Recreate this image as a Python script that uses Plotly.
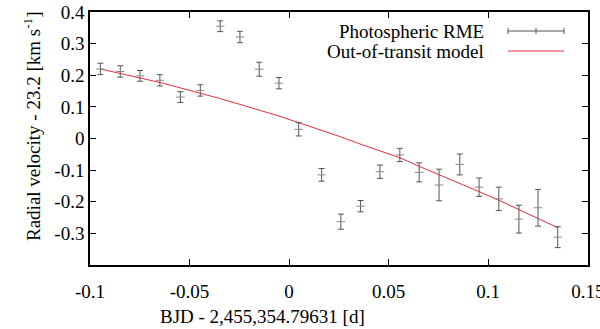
import plotly.graph_objects as go

# BJD offsets [d]
bjd = [-0.0948, -0.0848, -0.0749, -0.0649, -0.0546, -0.0446, -0.0346, -0.0247,
       -0.0150, -0.0051, 0.0048, 0.0163, 0.0260, 0.0359, 0.0456, 0.0556,
       0.0653, 0.0753, 0.0857, 0.0954, 0.1053, 0.1154, 0.1250, 0.1349]
# photospheric RME radial velocity - 23.2 [km/s]
rv = [0.220, 0.212, 0.198, 0.184, 0.131, 0.152, 0.355, 0.321,
      0.219, 0.175, 0.029, -0.115, -0.263, -0.214, -0.105, -0.052,
      -0.107, -0.147, -0.082, -0.154, -0.191, -0.255, -0.219, -0.312]
rv_err = [0.018, 0.018, 0.017, 0.018, 0.017, 0.018, 0.017, 0.018,
          0.022, 0.018, 0.021, 0.020, 0.024, 0.018, 0.021, 0.021,
          0.030, 0.050, 0.033, 0.029, 0.037, 0.044, 0.058, 0.033]
# out-of-transit model at same epochs
model = [0.220, 0.206, 0.192, 0.177, 0.160, 0.144, 0.126, 0.108,
         0.090, 0.071, 0.050, 0.026, 0.005, -0.018, -0.040, -0.061,
         -0.088, -0.114, -0.141, -0.168, -0.195, -0.224, -0.252, -0.282]

xticks = [-0.1, -0.05, 0, 0.05, 0.1, 0.15]
xlabels = ["-0.1", "-0.05", "0", "0.05", "0.1", "0.15"]
yticks = [0.4, 0.3, 0.2, 0.1, 0, -0.1, -0.2, -0.3]
ylabels = ["0.4", "0.3", "0.2", "0.1", "0", "-0.1", "-0.2", "-0.3"]

FONT = "Liberation Serif, Times New Roman, Times, serif"
ERRC = "#555555"
REDC = "#e2303c"
XRANGE = [-0.1, 0.1501]

# plot area in pixels: x 90..588, y 12..265
PW, PH = 498, 253

fig = go.Figure()
fig.add_trace(go.Scatter(
    x=bjd, y=rv, mode="markers", xaxis="x2",
    marker=dict(symbol="line-ew", size=6, line=dict(color="#888888", width=1)),
    error_y=dict(type="data", array=rv_err, color=ERRC, thickness=1, width=3),
    showlegend=False))
fig.add_trace(go.Scatter(
    x=bjd, y=model, mode="lines",
    line=dict(color=REDC, width=1), showlegend=False))

# gnuplot style key, drawn by hand
for txt, ypx in [("Photospheric RME", 31), ("Out-of-transit model", 51)]:
    fig.add_annotation(x=(486 - 90) / PW, y=1 - (ypx - 12) / PH, xref="paper", yref="paper",
                       text=txt, showarrow=False, xanchor="right", yanchor="middle",
                       font=dict(family=FONT, size=19, color="black"))
x0, x1 = (508 - 90) / PW, (564 - 90) / PW
y_rme = 1 - (31 - 12) / PH
y_mod = 1 - (51 - 12) / PH
fig.add_shape(type="line", xref="paper", yref="paper", x0=x0, x1=x1, y0=y_rme, y1=y_rme,
              line=dict(color=ERRC, width=1))
for xx in [x0, (x0 + x1) / 2, x1]:
    fig.add_shape(type="line", xref="paper", yref="paper", x0=xx, x1=xx,
                  y0=y_rme - 3 / PH, y1=y_rme + 3 / PH, line=dict(color=ERRC, width=1))
fig.add_shape(type="line", xref="paper", yref="paper", x0=x0, x1=x1, y0=y_mod, y1=y_mod,
              line=dict(color=REDC, width=1))

fig.add_annotation(x=-72 / PW, y=1 - (126 - 12) / PH, xref="paper", yref="paper",
                   text="Radial velocity - 23.2 [km s<sup>-1</sup>]", textangle=-90,
                   showarrow=False, font=dict(family=FONT, size=19, color="black"))
fig.add_annotation(x=(262 - 90) / PW, y=-(316 - 265) / PH, xref="paper", yref="paper",
                   text="BJD - 2,455,354.79631 [d]", showarrow=False,
                   xanchor="center", yanchor="middle",
                   font=dict(family=FONT, size=19, color="black"))

axis_common = dict(showgrid=False, zeroline=False, showline=True, linecolor="black",
                   linewidth=1.5, mirror="ticks", ticks="inside", ticklen=6,
                   tickcolor="black", tickwidth=1,
                   tickfont=dict(family=FONT, size=19, color="black"))
fig.update_layout(
    xaxis=dict(range=XRANGE, tickvals=xticks, showticklabels=False, **axis_common),
    yaxis=dict(range=[-0.4, 0.4], tickvals=yticks, ticktext=ylabels,
               ticksuffix="   ", **axis_common),
    # second x axis only carries the tick labels, pushed down by invisible outside ticks
    xaxis2=dict(overlaying="x", anchor="y", side="bottom",
                range=XRANGE, tickvals=xticks, ticktext=xlabels,
                ticks="outside", ticklen=9, tickcolor="rgba(0,0,0,0)",
                ticklabeloverflow="allow",
                showline=False, showgrid=False, zeroline=False,
                tickfont=dict(family=FONT, size=19, color="black")))

fig.update_layout(width=600, height=329, autosize=False,
                  margin=dict(l=90, r=12, t=12, b=64, autoexpand=False),
                  plot_bgcolor="white", paper_bgcolor="white",
                  font=dict(family=FONT, color="black"))
fig.write_html("out.html", config={"displayModeBar": False},
               post_script="document.body.style.margin='0';")
